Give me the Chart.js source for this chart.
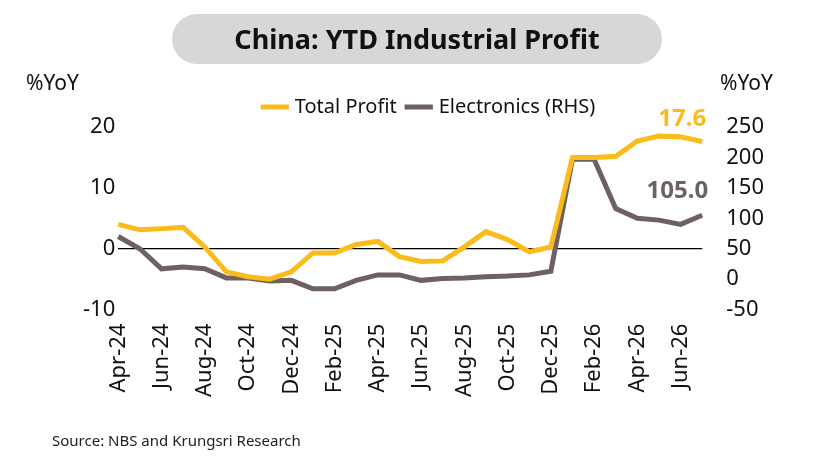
<!DOCTYPE html>
<html><head><meta charset="utf-8">
<script src="https://cdn.jsdelivr.net/npm/chart.js@4"></script>
<style>
body{margin:0;background:#fff;font-family:"Noto Sans",sans-serif;}
#wrap{position:relative;width:840px;height:473px;}
#title{position:absolute;left:172px;top:14px;width:490px;height:50px;background:#d9d6d6;border-radius:25px;text-align:center;line-height:50px;font-size:27px;font-weight:bold;color:#111;}
#src{position:absolute;left:52px;top:430px;font-size:15px;color:#222;}
</style></head>
<body><div id="wrap">
<canvas id="chart" width="840" height="473"></canvas>
<div id="title">China: YTD Industrial Profit</div>
<div id="src">Source: NBS and Krungsri Research</div>
</div>
<script>
const months = ['Apr-24','May-24','Jun-24','Jul-24','Aug-24','Sep-24','Oct-24','Nov-24','Dec-24','Jan-25','Feb-25','Mar-25','Apr-25','May-25','Jun-25','Jul-25','Aug-25','Sep-25','Oct-25','Nov-25','Dec-25','Jan-26','Feb-26','Mar-26','Apr-26','May-26','Jun-26','Jul-26'];
const totalProfit = [4.0,3.1,3.3,3.5,0.3,-3.8,-4.6,-5.0,-3.8,-0.7,-0.7,0.7,1.2,-1.3,-2.1,-2.0,0.3,2.8,1.5,-0.5,0.3,15.0,15.0,15.2,17.7,18.5,18.4,17.6];
const electronics = [70,50,17,20,17,2,2,-3,-2,-16,-16,-2,7,7,-2,1,2,4,5,7,13,197,197,116,100,97,90,105];
const yellow = '#fbbc1b', grey = '#6d6163';
const font = {family:'"Noto Sans", sans-serif', size:22};

const extras = {
  id:'extras',
  afterDraw(c){
    const ctx = c.ctx, x = c.scales.x, yl = c.scales.y, yr = c.scales.y1;
    ctx.save();
    ctx.font = '21px "Noto Sans", sans-serif';
    ctx.fillStyle = '#111';
    ctx.textBaseline = 'middle';
    ctx.textAlign = 'left';
    ctx.fillText('%YoY', 26, 84);
    ctx.fillText('%YoY', 720, 84);
    ctx.font = 'bold 24px "Noto Sans", sans-serif';
    ctx.textAlign = 'right';
    const n = months.length - 1;
    ctx.fillStyle = yellow;
    ctx.fillText(totalProfit[n].toFixed(1), x.getPixelForValue(n) + 4, yl.getPixelForValue(totalProfit[n]) - 22);
    ctx.fillStyle = grey;
    ctx.fillText(electronics[n].toFixed(1), x.getPixelForValue(n) + 6, yr.getPixelForValue(electronics[n]) - 24);
    ctx.restore();
  }
};

new Chart(document.getElementById('chart'), {
  type:'line',
  data:{labels:months, datasets:[
    {label:'Total Profit', data:totalProfit, borderColor:yellow, backgroundColor:yellow, borderWidth:5, pointRadius:0, yAxisID:'y', tension:0},
    {label:'Electronics (RHS)', data:electronics, borderColor:grey, backgroundColor:grey, borderWidth:5, pointRadius:0, yAxisID:'y1', tension:0}
  ]},
  options:{
    responsive:false, animation:false,
    layout:{padding:{top:85, left:80, right:60, bottom:70}},
    plugins:{
      legend:{position:'top', labels:{usePointStyle:true, pointStyle:'line', boxWidth:60, font:{family:font.family, size:20}, color:'#111', padding:12}},
      tooltip:{enabled:false}
    },
    scales:{
      x:{grid:{display:false}, border:{display:false}, ticks:{autoSkip:false, maxRotation:90, minRotation:90, padding:6, color:'#111', font:{family:font.family, size:22}, callback:(v,i)=> i%2===0 ? months[i] : ''}},
      y:{position:'left', min:-10, max:20, ticks:{stepSize:10, color:'#111', font}, border:{display:false},
         grid:{drawTicks:false, color:ctx=> ctx.tick.value===0 ? '#000' : 'transparent', lineWidth:1.3}},
      y1:{position:'right', min:-50, max:250, ticks:{stepSize:50, padding:16, color:'#111', font}, border:{display:false}, grid:{display:false}}
    }
  },
  plugins:[extras]
});
</script></body></html>
